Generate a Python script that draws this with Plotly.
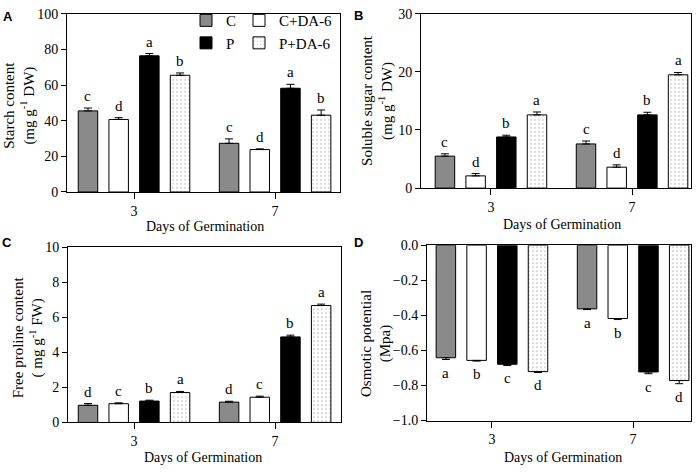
import plotly.graph_objects as go

W, H = 700, 475

days = ["3", "7"]
treatments = ["C", "C+DA-6", "P", "P+DA-6"]

# values per treatment (rows) at day 3 and day 7 (columns)
starch_mean = [[45.5, 27.3], [40.7, 23.8], [76.4, 58.2], [65.5, 43.1]]
starch_err = [[1.6, 2.5], [1.0, 0.4], [1.3, 2.2], [1.3, 2.9]]
starch_letters = [["c", "c"], ["d", "d"], ["a", "a"], ["b", "b"]]

sugar_mean = [[5.5, 7.6], [2.1, 3.6], [8.8, 12.6], [12.6, 19.5]]
sugar_err = [[0.4, 0.5], [0.4, 0.4], [0.3, 0.45], [0.5, 0.4]]
sugar_letters = [["c", "c"], ["d", "d"], ["b", "b"], ["a", "a"]]

proline_mean = [[0.98, 1.16], [1.07, 1.44], [1.22, 4.88], [1.71, 6.67]]
proline_err = [[0.1, 0.05], [0.05, 0.06], [0.05, 0.1], [0.06, 0.08]]
proline_letters = [["d", "d"], ["c", "c"], ["b", "b"], ["a", "a"]]

osmotic_mean = [[-0.642, -0.363], [-0.657, -0.418], [-0.679, -0.723], [-0.721, -0.772]]
osmotic_err = [[0.01, 0.004], [0.004, 0.006], [0.007, 0.01], [0.005, 0.018]]
osmotic_letters = [["a", "a"], ["b", "b"], ["c", "c"], ["d", "d"]]

SERIF = "Liberation Serif, Times New Roman, serif"
SANS = "Liberation Sans, Arial, sans-serif"

fill_colors = ["#8a8a8a", "white", "black", "white"]
BARGAP = 0.13
BARGROUPGAP = 0.365
slot = (1 - BARGAP) / 4

def px(x):
    return x / W

def py(y):
    return 1 - y / H

panels = [
    dict(ax="", mean=starch_mean, err=starch_err, let=starch_letters, neg=False,
         xdom=[px(67), px(340)], ydom=[py(191), py(7)], xr=[-0.475, 1.46],
         yr=[0, 100], dtick=20, fmt="d"),
    dict(ax="2", mean=sugar_mean, err=sugar_err, let=sugar_letters, neg=False,
         xdom=[px(421), px(691)], ydom=[py(187), py(7)], xr=[-0.496, 1.418],
         yr=[0, 30], dtick=10, fmt="d"),
    dict(ax="3", mean=proline_mean, err=proline_err, let=proline_letters, neg=False,
         xdom=[px(68), px(341)], ydom=[py(429), py(248)], xr=[-0.468, 1.467],
         yr=[0, 10], dtick=2, fmt="d"),
    dict(ax="4", mean=osmotic_mean, err=osmotic_err, let=osmotic_letters, neg=True,
         xdom=[px(427), px(691)], ydom=[py(427), py(246)], xr=[-0.46, 1.41],
         yr=[-1, 0], dtick=0.2, fmt=".1f"),
]

fig = go.Figure()
annotations = []

for pi, p in enumerate(panels):
    for ti, name in enumerate(treatments):
        marker = dict(color=fill_colors[ti], line=dict(color="black", width=1))
        if ti == 3:
            marker["pattern"] = dict(shape=".", fgcolor="#555", bgcolor="white",
                                     size=4, solidity=0.12)
        if p["neg"]:
            ey = dict(type="data", symmetric=False, array=[0, 0],
                      arrayminus=p["err"][ti], color="black", thickness=1, width=4)
        else:
            ey = dict(type="data", symmetric=False, array=p["err"][ti],
                      arrayminus=[0, 0], color="black", thickness=1, width=4)
        legend = "legend" if ti in (0, 2) else "legend2"
        fig.add_trace(go.Bar(
            x=[0, 1], y=p["mean"][ti], name=name, marker=marker, error_y=ey,
            xaxis="x" + p["ax"], yaxis="y" + p["ax"],
            showlegend=(pi == 0), legend=legend, legendrank=ti,
        ))
        for gi in range(2):
            xpos = gi + (ti - 1.5) * slot
            v = p["mean"][ti][gi]
            e = p["err"][ti][gi]
            if p["neg"]:
                annotations.append(dict(
                    x=xpos, y=v - e, xref="x" + p["ax"], yref="y" + p["ax"],
                    text=p["let"][ti][gi], showarrow=False, yanchor="top",
                    yshift=-3, font=dict(family=SERIF, size=15, color="black")))
            else:
                annotations.append(dict(
                    x=xpos, y=v + e, xref="x" + p["ax"], yref="y" + p["ax"],
                    text=p["let"][ti][gi], showarrow=False, yanchor="bottom",
                    yshift=2, font=dict(family=SERIF, size=15, color="black")))

axis_common = dict(showline=True, mirror=True, linecolor="black", linewidth=1,
                   ticks="outside", ticklen=5, tickcolor="black", tickwidth=1,
                   showgrid=False, zeroline=False,
                   tickfont=dict(family=SERIF, size=14, color="black"))

layout = dict(
    width=W, height=H, margin=dict(l=0, r=0, t=0, b=0),
    paper_bgcolor="white", plot_bgcolor="white",
    barmode="group", bargap=BARGAP, bargroupgap=BARGROUPGAP,
    font=dict(family=SERIF, size=14, color="black"),
    legend=dict(x=px(186), y=py(-3), xanchor="left", yanchor="top",
                font=dict(family=SERIF, size=15), bgcolor="rgba(0,0,0,0)",
                tracegroupgap=0, itemwidth=30),
    legend2=dict(x=px(239), y=py(-3), xanchor="left", yanchor="top",
                 font=dict(family=SERIF, size=15), bgcolor="rgba(0,0,0,0)",
                 tracegroupgap=0, itemwidth=30),
)

for p in panels:
    a = p["ax"]
    layout["xaxis" + a] = dict(axis_common, domain=p["xdom"], range=p["xr"],
                               anchor="y" + a, tickvals=[0, 1], ticktext=days, ticklen=6)
    layout["yaxis" + a] = dict(axis_common, domain=p["ydom"], range=p["yr"],
                               anchor="x" + a, dtick=p["dtick"], tickformat=p["fmt"],
                               tick0=0)

# panel letters
for lab, x, y in [("A", 8, 10), ("B", 358, 9), ("C", 7, 243), ("D", 358, 243)]:
    annotations.append(dict(x=px(x), y=py(y), xref="paper", yref="paper", text=lab,
                            showarrow=False, xanchor="center", yanchor="middle",
                            font=dict(family=SANS, size=13, color="black", weight="bold")))

# x-axis titles
for x, y in [(205, 227), (562, 225), (203, 465), (563, 465)]:
    annotations.append(dict(x=px(x), y=py(y), xref="paper", yref="paper",
                            text="Days of Germination", showarrow=False,
                            xanchor="center", yanchor="middle",
                            font=dict(family=SERIF, size=14, color="black")))

# y-axis titles
ytitles = [
    ("Starch content<br>(mg g<sup>-1</sup> DW)", 20, 102),
    ("Soluble sugar content<br>(mg g<sup>-1</sup> DW)", 378, 97),
    ("Free proline content<br>( mg g<sup>-1</sup> FW)", 28, 341),
    ("Osmotic potential<br>(Mpa)", 376, 348),
]
for t, x, y in ytitles:
    annotations.append(dict(x=px(x), y=py(y), xref="paper", yref="paper", text=t,
                            showarrow=False, textangle=-90, xanchor="center",
                            yanchor="middle",
                            font=dict(family=SERIF, size=15, color="black")))

layout["annotations"] = annotations
fig.update_layout(**layout)
fig.write_html("out.html",
               config={"displayModeBar": False},
               post_script="document.body.style.margin='0';"
                           "document.body.style.overflow='hidden';")
